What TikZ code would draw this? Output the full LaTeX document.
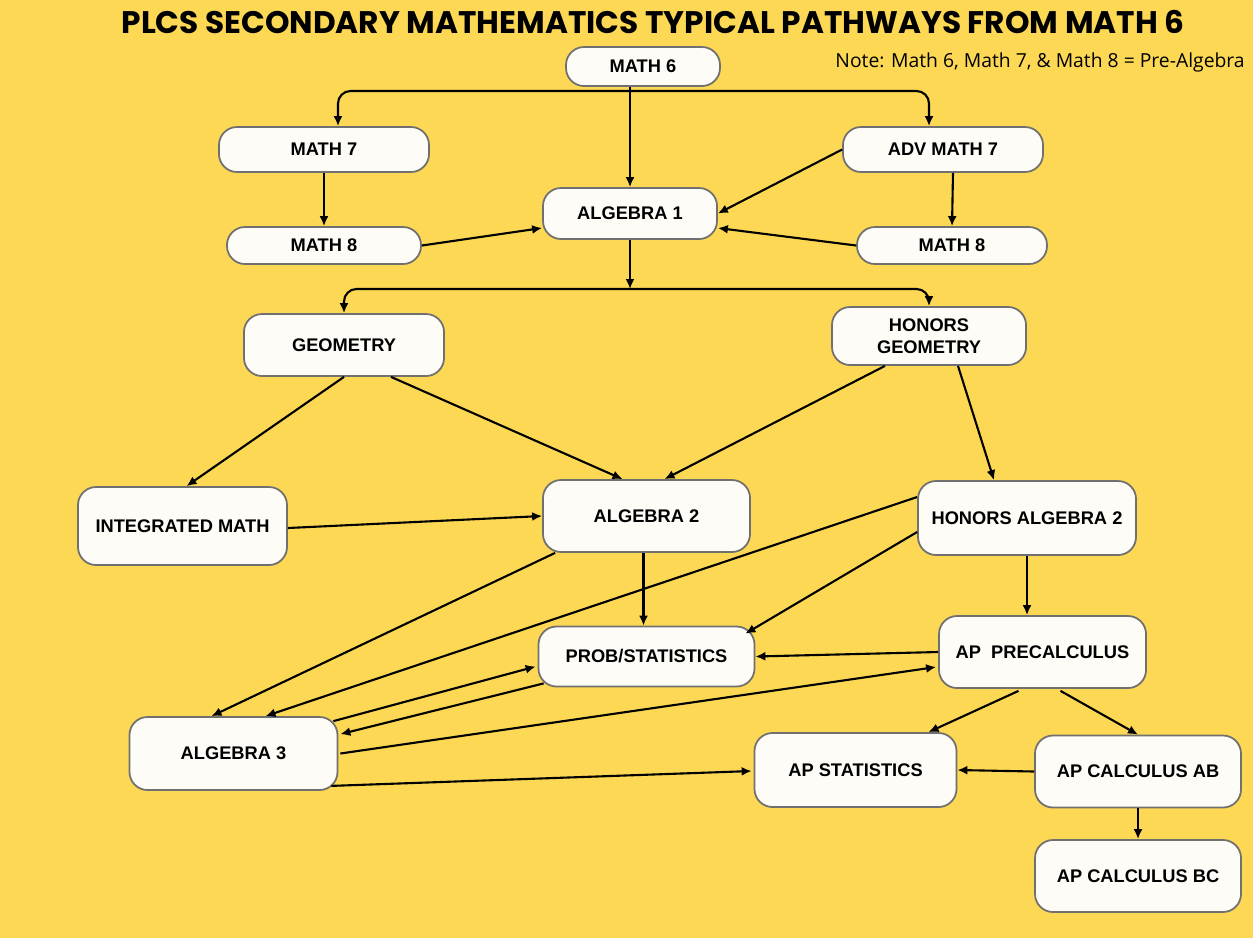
\documentclass[tikz,border=0pt]{standalone}
\usepackage{fontspec}
\setmainfont{Liberation Sans}
\newfontfamily\titlefont{Poppins}
\newfontfamily\notefont{Open Sans}
\usepackage{graphicx}
\usepackage{tikz}
\usetikzlibrary{arrows.meta,calc}
\usepackage{xcolor}
\definecolor{bgyellow}{RGB}{253,216,84}
\definecolor{boxfill}{RGB}{253,252,246}
\definecolor{boxgray}{RGB}{112,112,112}

\begin{document}
\begin{tikzpicture}[x=0.02cm, y=-0.02cm,
		coursebox/.style={draw=boxgray, fill=boxfill, line width=1pt, rounded corners=0.36cm,
			align=center, inner sep=2pt, font=\fontsize{10.4}{12.5}\selectfont\bfseries},
		course/.style 2 args={coursebox, minimum width=#1*0.02cm, minimum height=#2*0.02cm},
		link/.style={->, line width=1.2pt},
		>={Latex[length=0.2cm,width=0.18cm]}]

		% Background
		\fill[bgyellow] (0,0) rectangle (1253,938);
		\useasboundingbox (0,0) rectangle (1253,938);

		% Title and note
		\node (title) at (653,22) {\titlefont\bfseries\resizebox{21.26cm}{!}{PLCS SECONDARY MATHEMATICS TYPICAL PATHWAYS FROM MATH 6}};
		\node[anchor=east, inner sep=0pt] (note) at (1245,62) {\notefont\fontsize{11}{13}\selectfont Note: Math 6, Math 7, \& Math 8 = Pre-Algebra};

		% Middle school
		\node[course={154}{39}] (math6) at (643,66.5) {MATH 6};
		\node[course={210}{45}] (math7) at (324,149.5) {MATH 7};
		\node[course={200}{45}] (adv7) at (943,149.5) {ADV MATH 7};
		\node[course={174}{51}] (alg1) at (630,213.5) {ALGEBRA 1};
		\node[course={194}{37}] (math8l) at (324,245.5) {MATH 8};
		\node[course={190}{37}] (math8r) at (952,245.5) {MATH 8};

		% High school
		\node[course={200}{62}] (geo) at (344,345) {GEOMETRY};
		\node[course={194}{58}] (hgeo) at (929,336) {HONORS\\GEOMETRY};
		\node[course={209}{78}] (intm) at (182.5,526) {INTEGRATED MATH};
		\node[course={207}{72}] (alg2) at (646.5,516) {ALGEBRA 2};
		\node[course={218}{74}] (halg2) at (1027,518) {HONORS ALGEBRA 2};
		\node[course={216}{60}] (prob) at (646.5,656.5) {PROB/STATISTICS};
		\node[course={207}{72}] (prec) at (1042.5,652) {AP\ \ PRECALCULUS};
		\node[course={208}{73}] (alg3) at (233.5,753.5) {ALGEBRA 3};
		\node[course={202}{74}] (apstat) at (855.5,770) {AP STATISTICS};
		\node[course={206}{72}] (calcab) at (1138,771.5) {AP CALCULUS AB};
		\node[course={206}{72}] (calcbc) at (1138,876) {AP CALCULUS BC};

		% Split points
		\coordinate (split1) at (630,91);
		\coordinate (split2) at (630,289);

		% From Math 6
		\draw[link] (math6.south -| alg1.north) -- (alg1.north);
		\draw[link, rounded corners=0.25cm] (split1) -| ($(math7.north)+(14,0)$);
		\draw[link, rounded corners=0.25cm] (split1) -| ($(adv7.north)+(-14,0)$);
		\draw[link] (math7.south) -- (math8l.north);
		\draw[link] ($(adv7.south)+(10,0)$) -- (math8r.north);

		% Into Algebra 1
		\draw[link] (math8l.east) -- ($(alg1.west)+(0,14.5)$);
		\draw[link] (adv7.west) -- (alg1.east);
		\draw[link] (math8r.west) -- ($(alg1.east)+(0,14.5)$);

		% Geometry split
		\draw[link] (alg1.south) -- (split2);
		\draw[link, rounded corners=0.25cm] (split2) -| (geo.north);
		\draw[link, rounded corners=0.25cm] (split2) -| (hgeo.north);

		% Geometry to Algebra 2
		\draw[link] (geo.south) -- ($(intm.north)+(4,0)$);
		\draw[link] ($(geo.south)+(47,0)$) -- ($(alg2.north)+(-24,0)$);
		\draw[link] ($(hgeo.south)+(-44,0)$) -- ($(alg2.north)+(18,0)$);
		\draw[link] ($(hgeo.south)+(29,0)$) -- ($(halg2.north)+(-33,0)$);
		\draw[link] ($(intm.east)+(0,2)$) -- (alg2.west);

		% Algebra 2 onward
		\draw[link] ($(alg2.south)+(-3,0)$) -- ($(prob.north)+(-3,0)$);
		\draw[link] ($(alg2.south west)+(13,0)$) -- ($(alg3.north)+(-22,0)$);
		\draw[link] ($(halg2.west)+(0,-21)$) -- ($(alg3.north)+(32,0)$);
		\draw[link] ($(halg2.west)+(0,14)$) -- ($(prob.north east)+(-10,8)$);
		\draw[link] (halg2.south) -- (halg2.south |- prec.north);
		\draw[link] (prec.west) -- (prob.east);

		% Algebra 3 links
		\draw[link] ($(alg3.north east)+(-5,5)$) -- ($(prob.west)+(-2,10)$);
		\draw[link] ($(prob.south west)+(6,-4)$) -- ($(alg3.north east)+(2,18)$);
		\draw[link] ($(alg3.east)+(2,0)$) -- ($(prec.west)+(-2,15)$);
		\draw[link] ($(alg3.south east)+(-7,-5)$) -- ($(apstat.west)+(-2,1)$);

		% AP courses
		\draw[link] ($(prec.south)+(-24,2)$) -- ($(apstat.north)+(73,0)$);
		\draw[link] ($(prec.south)+(18,2)$) -- (calcab.north);
		\draw[link] (calcab.west) -- (apstat.east);
		\draw[link] (calcab.south) -- (calcbc.north);
	\end{tikzpicture}
\end{document}
